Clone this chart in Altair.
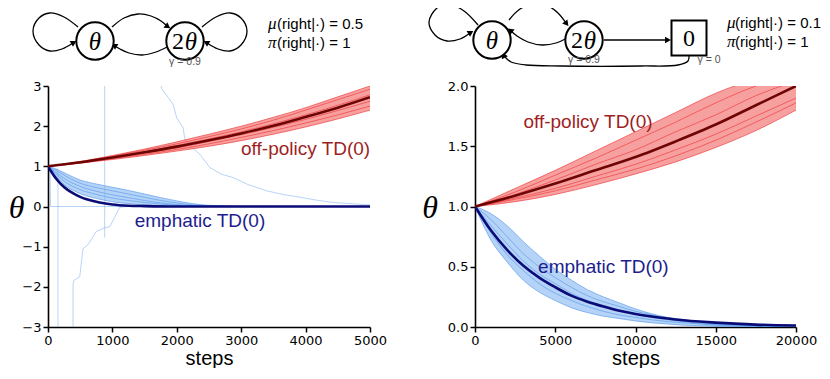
import altair as alt
import pandas as pd

# ================= LEFT PANEL  (mu(right|.) = 0.5) =================
L_red_steps = [0, 500, 1000, 1500, 2000, 2500, 3000, 3500, 4000, 4500, 5000]
L_red_mean = [1.00, 1.10, 1.22, 1.35, 1.49, 1.65, 1.82, 2.01, 2.23, 2.46, 2.72]
L_red_hi = [1.00, 1.12, 1.27, 1.43, 1.61, 1.80, 2.00, 2.22, 2.46, 2.73, 3.00]
L_red_lo = [1.00, 1.08, 1.17, 1.27, 1.38, 1.50, 1.64, 1.80, 1.98, 2.18, 2.40]
L_red_runs = {
    "r1": [1.00, 1.11, 1.25, 1.40, 1.56, 1.74, 1.93, 2.15, 2.40, 2.66, 2.92],
    "r2": [1.00, 1.09, 1.21, 1.33, 1.46, 1.62, 1.79, 1.97, 2.17, 2.39, 2.62],
    "r3": [1.00, 1.10, 1.23, 1.36, 1.52, 1.68, 1.86, 2.06, 2.28, 2.52, 2.78],
    "r4": [1.00, 1.08, 1.19, 1.30, 1.42, 1.56, 1.72, 1.89, 2.08, 2.28, 2.50],
}

L_blue_steps = [0, 100, 250, 500, 750, 1000, 1250, 1500, 1750, 2000, 2250, 2500, 3000, 5000]
L_blue_hi = [1.00, 0.95, 0.84, 0.66, 0.56, 0.48, 0.40, 0.31, 0.22, 0.14, 0.07, 0.03, 0.01, 0.00]
L_blue_lo = [1.00, 0.80, 0.55, 0.32, 0.20, 0.12, 0.07, 0.04, 0.02, 0.01, 0.00, 0.00, 0.00, 0.00]
L_blue_runs = {
    "b1": [1.00, 0.92, 0.78, 0.58, 0.47, 0.39, 0.31, 0.23, 0.15, 0.09, 0.04, 0.02, 0.00, 0.00],
    "b2": [1.00, 0.88, 0.70, 0.50, 0.38, 0.29, 0.22, 0.15, 0.09, 0.05, 0.02, 0.01, 0.00, 0.00],
    "b3": [1.00, 0.85, 0.63, 0.42, 0.30, 0.21, 0.15, 0.10, 0.06, 0.03, 0.01, 0.00, 0.00, 0.00],
}
L_blue_mean_steps = [0, 50, 100, 150, 200, 300, 400, 500, 600, 800, 1000, 1250, 1500, 2000, 5000]
L_blue_mean = [1.00, 0.87, 0.75, 0.65, 0.56, 0.42, 0.32, 0.24, 0.18, 0.10, 0.05, 0.02, 0.01, 0.00, 0.00]

# diverging emphatic runs (left panel)
L_out = {
    "o1": ([140, 155, 155], [0.95, 0.90, -3.5]),
    "o2": ([389, 389, 400, 492, 544, 620, 700, 751, 850, 958, 1036, 1114, 1250],
           [-3.5, -1.95, -1.84, -1.75, -1.05, -0.95, -0.75, -0.62, -0.55, -0.50, -0.27, -0.02, 0.0]),
    "o3": ([880, 880], [-0.77, 3.5]),
    "o4": ([1736, 1760, 1850, 1943, 2000, 2098, 2124, 2250, 2357, 2513, 2700, 2876, 3100, 3394,
            3650, 3912, 4200, 4430, 4793, 5000],
           [3.5, 2.95, 2.75, 2.54, 2.20, 1.96, 1.68, 1.45, 1.30, 0.97, 0.80, 0.72, 0.55, 0.39,
            0.30, 0.23, 0.15, 0.10, 0.06, 0.04]),
    "o5": ([30, 40, 1840], [1.0, 0.0, 0.0]),
}
L_labels_red = [("off-policy TD(0)", 4000, 1.43)]
L_labels_blue = [("emphatic TD(0)", 2360, -0.36)]
L_xticks = [0, 1000, 2000, 3000, 4000, 5000]
L_yticks = [-3, -2, -1, 0, 1, 2, 3]

# ================= RIGHT PANEL  (mu(right|.) = 0.1) =================
R_red_steps = [0, 2500, 5000, 7500, 10000, 12500, 15000, 17500, 20000]
R_red_mean = [1.00, 1.09, 1.19, 1.30, 1.41, 1.54, 1.68, 1.84, 2.00]
R_red_hi = [1.00, 1.15, 1.30, 1.46, 1.62, 1.78, 1.94, 2.06, 2.15]
R_red_lo = [1.00, 1.04, 1.10, 1.18, 1.27, 1.37, 1.49, 1.63, 1.80]
R_red_runs = {
    "r1": [1.00, 1.12, 1.26, 1.40, 1.55, 1.70, 1.86, 2.00, 2.10],
    "r2": [1.00, 1.07, 1.15, 1.25, 1.35, 1.47, 1.60, 1.75, 1.90],
    "r3": [1.00, 1.10, 1.22, 1.35, 1.47, 1.62, 1.76, 1.92, 2.04],
    "r4": [1.00, 1.06, 1.13, 1.22, 1.31, 1.42, 1.55, 1.70, 1.86],
}
R_blue_steps = [0, 1000, 2000, 3000, 4000, 5000, 6000, 7000, 8000, 9000, 10000, 11000, 12000,
                13000, 14000, 15000, 17500, 20000]
R_blue_mean = [1.00, 0.80, 0.64, 0.51, 0.41, 0.33, 0.26, 0.21, 0.17, 0.135, 0.108, 0.087, 0.07,
               0.056, 0.045, 0.036, 0.02, 0.012]
R_blue_hi = [1.00, 0.94, 0.84, 0.71, 0.59, 0.48, 0.39, 0.31, 0.25, 0.20, 0.15, 0.11, 0.08, 0.06,
             0.045, 0.03, 0.015, 0.005]
R_blue_lo = [1.00, 0.72, 0.54, 0.39, 0.29, 0.22, 0.16, 0.12, 0.09, 0.07, 0.05, 0.035, 0.025,
             0.015, 0.01, 0.005, 0.0, 0.0]
R_blue_runs = {
    "b1": [1.00, 0.89, 0.75, 0.61, 0.50, 0.41, 0.33, 0.26, 0.21, 0.17, 0.13, 0.10, 0.07, 0.05,
           0.04, 0.025, 0.01, 0.0],
    "b2": [1.00, 0.78, 0.60, 0.47, 0.36, 0.28, 0.22, 0.17, 0.13, 0.10, 0.08, 0.06, 0.045, 0.035,
           0.025, 0.015, 0.005, 0.0],
    "b3": [1.00, 0.84, 0.69, 0.55, 0.44, 0.36, 0.28, 0.22, 0.18, 0.14, 0.11, 0.08, 0.06, 0.045,
           0.03, 0.02, 0.01, 0.0],
}
R_labels_red = [("off-policy TD(0)", 7040, 1.70)]
R_labels_blue = [("emphatic TD(0)", 8000, 0.50)]
R_xticks = [0, 5000, 10000, 15000, 20000]
R_yticks = [0.0, 0.5, 1.0, 1.5, 2.0]

# ================= DIAGRAMS (schematic MDPs) =================
L_nodes = [(95, 42), (185, 42)]
L_curves = {
    "loop1": [(78, 28), (64, 18), (50, 14), (39, 19), (33, 32), (39, 46), (50, 52), (62, 50), (73, 44)],
    "top": [(112, 28), (124, 19), (138, 15), (151, 17), (161, 22), (167, 27)],
    "bot": [(167, 48), (156, 53), (142, 56), (129, 54), (120, 50), (115, 47)],
    "loop2": [(202, 28), (216, 18), (230, 14), (241, 19), (247, 32), (241, 46), (230, 52), (218, 50), (207, 44)],
}
L_arrows = [(73, 44, 60), (167, 27, 125), (115, 47, 300), (207, 44, 300)]
L_upright = [("2", 178, 43)]
L_italic = [("θ", 95, 43), ("θ", 191, 43)]
L_gamma = [("γ = 0.9", 185, 63)]
L_sym = [("μ", 268, 25), ("π", 268, 44)]
L_rest = [("(right|·) = 0.5", 277, 25), ("(right|·) = 1", 277, 44)]
L_pad = [(100, 5)]

R_nodes = [(491, 42), (583, 42)]
R_square = [(688, 40)]
R_curves = {
    "loop": [(477, 27), (463, 13), (448, 6), (436, 10), (428, 24), (434, 37), (446, 43), (459, 41), (469, 35)],
    "top": [(508, 22), (519, 11), (533, 6), (547, 8), (557, 15), (565, 25)],
    "bot": [(566, 40), (555, 45), (541, 47), (527, 44), (516, 38), (510, 33)],
    "straight": [(603, 42), (666, 42)],
    "back": [(688, 56), (687, 63), (677, 67), (640, 68), (560, 68), (525, 67), (510, 64), (504, 59)],
}
R_arrows = [(469, 35, 59), (565, 25, 141), (510, 33, 309), (666, 42, 90), (503, 58, 335)]
R_upright = [("2", 576, 43), ("0", 688, 41)]
R_italic = [("θ", 491, 43), ("θ", 589, 43)]
R_gamma = [("γ = 0.9", 583, 62), ("γ = 0", 708, 62)]
R_sym = [("μ", 726, 25), ("π", 726, 44)]
R_rest = [("(right|·) = 0.1", 734, 25), ("(right|·) = 1", 734, 44)]

# ================= styling =================
RED_THIN = "#f03c3c"
RED_FILL = "#f26060"
RED_MEAN = "#6e0505"
BLUE_THIN = "#5b9cec"
BLUE_FILL = "#78aef0"
BLUE_MEAN = "#0b0b78"
LBL_RED = "#9e1f1f"
LBL_BLUE = "#1d1d8f"


def runs_df(steps, runs):
    rows = []
    for name, vals in runs.items():
        for s, v in zip(steps, vals):
            rows.append({"steps": s, "theta": v, "run": name})
    return pd.DataFrame(rows)


def out_df(outs):
    rows = []
    for name, (ss, vv) in outs.items():
        for i, (s, v) in enumerate(zip(ss, vv)):
            rows.append({"steps": s, "theta": v, "run": name, "i": i})
    return pd.DataFrame(rows)


def panel(P):
    xs = alt.Scale(domain=P["xdom"], nice=False, zero=False)
    ys = alt.Scale(domain=P["ydom"], nice=False, zero=False)
    xax = alt.Axis(values=P["xticks"], format="d", title="steps", labelFlush=False)
    yax = alt.Axis(values=P["yticks"], format=P["yfmt"], title="θ", titleX=P["titleX"],
                   titleY=121, titleAngle=0, titleAlign="center", titleBaseline="middle",
                   titleFont="Liberation Serif", titleFontStyle="italic", titleFontSize=32,
                   titleFontWeight="normal")

    def X(f="steps"):
        return alt.X(f + ":Q", scale=xs, axis=xax)

    def Y(f):
        return alt.Y(f + ":Q", scale=ys, axis=yax)

    marks = []
    if P.get("out") is not None:
        marks.append(alt.Chart(out_df(P["out"])).mark_line(
            color=BLUE_THIN, strokeWidth=0.8, opacity=0.55, clip=True).encode(
            x=X(), y=Y("theta"), detail="run:N", order="i:Q"))
    bb = pd.DataFrame({"steps": P["b_steps"], "lo": P["b_lo"], "hi": P["b_hi"]})
    marks.append(alt.Chart(bb).mark_area(color=BLUE_FILL, opacity=0.55, clip=True,
                                         interpolate="monotone").encode(
        x=X(), y=Y("lo"), y2="hi:Q"))
    bl = pd.concat([runs_df(P["b_steps"], P["b_runs"]),
                    runs_df(P["b_steps"], {"lo": P["b_lo"], "hi": P["b_hi"]})])
    marks.append(alt.Chart(bl).mark_line(color=BLUE_THIN, strokeWidth=0.8, opacity=0.85, clip=True,
                                         interpolate="monotone").encode(
        x=X(), y=Y("theta"), detail="run:N"))
    rb = pd.DataFrame({"steps": P["r_steps"], "lo": P["r_lo"], "hi": P["r_hi"]})
    marks.append(alt.Chart(rb).mark_area(color=RED_FILL, opacity=0.6, clip=True,
                                         interpolate="monotone").encode(
        x=X(), y=Y("lo"), y2="hi:Q"))
    rl = pd.concat([runs_df(P["r_steps"], P["r_runs"]),
                    runs_df(P["r_steps"], {"lo": P["r_lo"], "hi": P["r_hi"]})])
    marks.append(alt.Chart(rl).mark_line(color=RED_THIN, strokeWidth=0.8, opacity=0.85, clip=True,
                                         interpolate="monotone").encode(
        x=X(), y=Y("theta"), detail="run:N"))
    bm = pd.DataFrame({"steps": P["bm_steps"], "theta": P["bm"]})
    marks.append(alt.Chart(bm).mark_line(color=BLUE_MEAN, strokeWidth=2.6, clip=True,
                                         interpolate="monotone").encode(x=X(), y=Y("theta")))
    rm = pd.DataFrame({"steps": P["r_steps"], "theta": P["rm"]})
    marks.append(alt.Chart(rm).mark_line(color=RED_MEAN, strokeWidth=2.6, clip=True,
                                         interpolate="monotone").encode(x=X(), y=Y("theta")))
    for labs, col in ((P["lab_red"], LBL_RED), (P["lab_blue"], LBL_BLUE)):
        ld = pd.DataFrame(labs, columns=["t", "steps", "theta"])
        marks.append(alt.Chart(ld).mark_text(font="Liberation Sans", fontSize=19, color=col,
                                             align="center", baseline="middle").encode(
            x=X(), y=Y("theta"), text="t:N"))
    plot = alt.layer(*marks)

    # ---- diagram in its own pixel-like scales ----
    dxs = alt.Scale(domain=P["dxdom"], nice=False, zero=False)
    dys = alt.Scale(domain=P["dydom"], nice=False, zero=False, reverse=True)

    def DX():
        return alt.X("x:Q", scale=dxs, axis=None)

    def DY():
        return alt.Y("y:Q", scale=dys, axis=None)

    d = []
    crow = []
    for name, pts in P["curves"].items():
        for i, (x, y) in enumerate(pts):
            crow.append({"c": name, "i": i, "x": x, "y": y})
    d.append(alt.Chart(pd.DataFrame(crow)).mark_line(color="black", strokeWidth=1.3,
                                                     interpolate="catmull-rom").encode(
        x=DX(), y=DY(), detail="c:N", order="i:Q"))
    ad = pd.DataFrame(P["arrows"], columns=["x", "y", "ang"])
    d.append(alt.Chart(ad).mark_point(shape="triangle", filled=True, size=45, color="black",
                                      opacity=1).encode(
        x=DX(), y=DY(), angle=alt.Angle("ang:Q", scale=None)))
    nd = pd.DataFrame(P["nodes"], columns=["x", "y"])
    d.append(alt.Chart(nd).mark_point(shape="circle", filled=True, fill="white", stroke="black",
                                      strokeWidth=2, size=1400, opacity=1).encode(x=DX(), y=DY()))
    if P.get("square"):
        sd = pd.DataFrame(P["square"], columns=["x", "y"])
        d.append(alt.Chart(sd).mark_point(shape="square", filled=True, fill="white",
                                          stroke="black", strokeWidth=2, size=1225,
                                          opacity=1).encode(x=DX(), y=DY()))
    ud = pd.DataFrame(P["upright"], columns=["t", "x", "y"])
    d.append(alt.Chart(ud).mark_text(font="Liberation Serif", fontSize=24, color="black",
                                     baseline="middle").encode(x=DX(), y=DY(), text="t:N"))
    idf = pd.DataFrame(P["italic"], columns=["t", "x", "y"])
    d.append(alt.Chart(idf).mark_text(font="Liberation Serif", fontSize=25, fontStyle="italic",
                                      color="black", baseline="middle").encode(
        x=DX(), y=DY(), text="t:N"))
    gd = pd.DataFrame(P["gamma"], columns=["t", "x", "y"])
    d.append(alt.Chart(gd).mark_text(font="Liberation Sans", fontSize=10.5, color="#555555",
                                     baseline="middle").encode(x=DX(), y=DY(), text="t:N"))
    sy = pd.DataFrame(P["sym"], columns=["t", "x", "y"])
    d.append(alt.Chart(sy).mark_text(font="Liberation Serif", fontSize=17, fontStyle="italic",
                                     color="black", align="left", baseline="middle").encode(
        x=DX(), y=DY(), text="t:N"))
    rs = pd.DataFrame(P["rest"], columns=["t", "x", "y"])
    d.append(alt.Chart(rs).mark_text(font="Liberation Sans", fontSize=15, color="black",
                                     align="left", baseline="middle").encode(
        x=DX(), y=DY(), text="t:N"))
    if P.get("pad"):
        pdd = pd.DataFrame(P["pad"], columns=["x", "y"])
        d.append(alt.Chart(pdd).mark_point(size=4, opacity=0).encode(x=DX(), y=DY()))
    diag = alt.layer(*d)

    return alt.layer(plot, diag).resolve_scale(x="independent", y="independent").properties(
        width=P["w"], height=241)


left = panel(dict(
    xdom=[0, 5000], ydom=[-3, 3], xticks=L_xticks, yticks=L_yticks, yfmt="d", titleX=-32,
    r_steps=L_red_steps, rm=L_red_mean, r_hi=L_red_hi, r_lo=L_red_lo, r_runs=L_red_runs,
    b_steps=L_blue_steps, b_hi=L_blue_hi, b_lo=L_blue_lo, b_runs=L_blue_runs,
    bm_steps=L_blue_mean_steps, bm=L_blue_mean, out=L_out,
    lab_red=L_labels_red, lab_blue=L_labels_blue,
    dxdom=[48, 370], dydom=[87, 328], curves=L_curves, arrows=L_arrows, nodes=L_nodes,
    upright=L_upright, italic=L_italic, gamma=L_gamma, sym=L_sym, rest=L_rest, pad=L_pad, w=322))

right = panel(dict(
    xdom=[0, 20000], ydom=[0, 2], xticks=R_xticks, yticks=R_yticks, yfmt=".1f", titleX=-45.5,
    r_steps=R_red_steps, rm=R_red_mean, r_hi=R_red_hi, r_lo=R_red_lo, r_runs=R_red_runs,
    b_steps=R_blue_steps, b_hi=R_blue_hi, b_lo=R_blue_lo, b_runs=R_blue_runs,
    bm_steps=R_blue_steps, bm=R_blue_mean, out=None,
    lab_red=R_labels_red, lab_blue=R_labels_blue,
    dxdom=[474, 795], dydom=[88, 329], curves=R_curves, arrows=R_arrows, nodes=R_nodes,
    square=R_square, upright=R_upright, italic=R_italic, gamma=R_gamma, sym=R_sym,
    rest=R_rest, w=321))

chart = alt.hconcat(left, right, spacing=34).properties(
    padding={"left": 0, "top": -7, "right": 0, "bottom": 0}
).configure_view(stroke=None).configure_axis(
    domainColor="black", domainWidth=1.6, tickColor="black", tickWidth=1.5, tickSize=5,
    labelFont="DejaVu Sans", labelFontSize=13, labelColor="black", labelPadding=2,
    grid=False, titleFont="Liberation Sans", titleFontSize=20, titleFontWeight="normal",
    titleColor="black", titlePadding=1
)

chart.save("out.html", embed_options={"renderer": "svg", "actions": False})
